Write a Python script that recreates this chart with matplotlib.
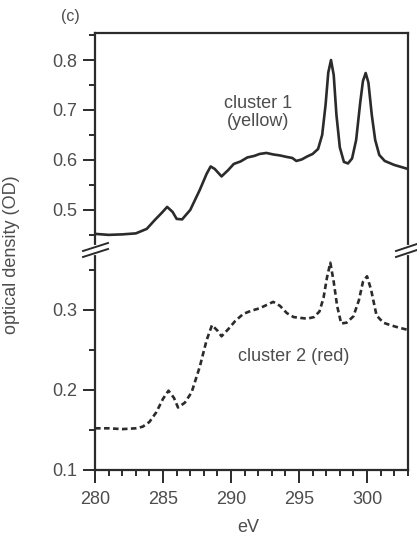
import matplotlib
matplotlib.use('Agg')
import matplotlib.pyplot as plt
from matplotlib.lines import Line2D
from matplotlib.ticker import MultipleLocator

# cluster 1 (yellow), solid curve
ev1 = [280.0, 281.0, 282.0, 283.0, 283.8, 284.4, 284.9, 285.3, 285.7, 286.0, 286.4,
       287.0, 287.7, 288.2, 288.5, 288.8, 289.3, 289.8, 290.2, 290.7, 291.2, 291.7,
       292.1, 292.6, 293.1, 293.6, 294.1, 294.5, 294.8, 295.2, 295.6, 296.0, 296.4,
       296.7, 296.95, 297.15, 297.35, 297.55, 297.75, 298.0, 298.3, 298.6, 298.9,
       299.2, 299.5, 299.7, 299.9, 300.1, 300.35, 300.6, 300.9, 301.3, 302.0, 303.0]
od1 = [0.452, 0.450, 0.451, 0.453, 0.462, 0.480, 0.494, 0.506, 0.496, 0.482, 0.481,
       0.500, 0.540, 0.572, 0.587, 0.582, 0.567, 0.580, 0.592, 0.597, 0.605, 0.608,
       0.612, 0.614, 0.611, 0.609, 0.606, 0.604, 0.598, 0.601, 0.607, 0.612, 0.622,
       0.650, 0.710, 0.775, 0.800, 0.770, 0.690, 0.625, 0.596, 0.593, 0.603,
       0.640, 0.715, 0.758, 0.774, 0.755, 0.690, 0.640, 0.610, 0.598, 0.590, 0.582]

# cluster 2 (red), dashed curve
ev2 = [280.0, 281.0, 282.0, 283.0, 283.5, 284.0, 284.5, 285.0, 285.4, 285.8, 286.1,
       286.6, 287.1, 287.7, 288.2, 288.6, 289.0, 289.3, 289.8, 290.3, 290.9, 291.5,
       292.1, 292.6, 293.1, 293.6, 294.1, 294.6, 295.1, 295.6, 296.1, 296.5, 296.8,
       297.05, 297.3, 297.55, 297.8, 298.1, 298.5, 299.0, 299.4, 299.7, 300.0,
       300.3, 300.7, 301.2, 301.7, 302.3, 303.0]
od2 = [0.152, 0.152, 0.151, 0.152, 0.154, 0.160, 0.172, 0.189, 0.199, 0.190, 0.178,
       0.184, 0.197, 0.229, 0.262, 0.281, 0.274, 0.267, 0.276, 0.286, 0.295, 0.299,
       0.302, 0.306, 0.310, 0.305, 0.296, 0.291, 0.290, 0.289, 0.291, 0.298, 0.315,
       0.340, 0.359, 0.335, 0.305, 0.283, 0.284, 0.292, 0.312, 0.335, 0.342,
       0.325, 0.293, 0.284, 0.281, 0.278, 0.275]

ink = '#2b2b2b'
txt = '#4d4d4d'
plt.rcParams['font.family'] = ['Liberation Sans', 'DejaVu Sans']
plt.rcParams['font.size'] = 13

fig = plt.figure(figsize=(4.17, 5.42), dpi=100)
ax_top = fig.add_axes([0.228, 0.539, 0.750, 0.400])
ax_bot = fig.add_axes([0.228, 0.133, 0.750, 0.406])

ax_top.plot(ev1, od1, color=ink, lw=1.9, solid_joinstyle='round')
ax_bot.plot(ev2, od2, color=ink, lw=1.9, linestyle=(0, (2.1, 1.3)))

ax_top.set_ylim(0.42, 0.854)
ax_bot.set_ylim(0.1, 0.375)
for ax in (ax_top, ax_bot):
    ax.set_xlim(280, 303)
    for s in ax.spines.values():
        s.set_color(ink)
        s.set_linewidth(1.6)
    ax.tick_params(axis='both', which='major', direction='out', length=9,
                   width=1.4, color=ink, labelcolor=txt, labelsize=13, pad=4)
    ax.tick_params(axis='both', which='minor', direction='out', length=4.5,
                   width=1.4, color=ink)
    ax.tick_params(axis='x', which='major', pad=6)
    ax.yaxis.set_major_locator(MultipleLocator(0.1))
    ax.yaxis.set_minor_locator(MultipleLocator(0.05))
    ax.tick_params(right=False, top=False, which='both')

ax_top.spines['bottom'].set_visible(False)
ax_top.tick_params(axis='x', which='both', bottom=False, labelbottom=False)
ax_top.set_yticks([0.5, 0.6, 0.7, 0.8])
ax_bot.spines['top'].set_visible(False)
ax_bot.set_yticks([0.1, 0.2, 0.3])
ax_bot.xaxis.set_major_locator(MultipleLocator(5))
ax_bot.xaxis.set_minor_locator(MultipleLocator(1))

# axis break marks (figure pixels -> fraction)
W, H = 417, 542
def brk(x0, x1, y0):
    for dy in (-3, 3):
        fig.add_artist(Line2D([x0 / W, x1 / W], [1 - (y0 + dy + 4) / H, 1 - (y0 + dy - 4) / H],
                              color=ink, lw=1.4))

# white gap behind the marks
for xc in (95, 408):
    fig.add_artist(Line2D([xc / W, xc / W], [1 - 253 / H, 1 - 247 / H], color='white', lw=3))
brk(83, 108, 250)
brk(396, 420, 250)

ax_top.text(292.0, 0.695, 'cluster 1\n(yellow)', ha='center', va='center',
            color=txt, fontsize=13, linespacing=1.1)
ax_bot.text(294.6, 0.242, 'cluster 2 (red)', ha='center', va='center',
            color=txt, fontsize=13)

fig.text(70 / W, 1 - 16 / H, '(c)', ha='center', va='center', color=txt, fontsize=11.5)
fig.text(12 / W, 1 - 255 / H, 'optical density (OD)', rotation=90, ha='center',
         va='center', color=txt, fontsize=13)
fig.text(248 / W, 1 - 527 / H, 'eV', ha='center', va='center', color=txt, fontsize=13)

fig.savefig('out.png', dpi=100)
